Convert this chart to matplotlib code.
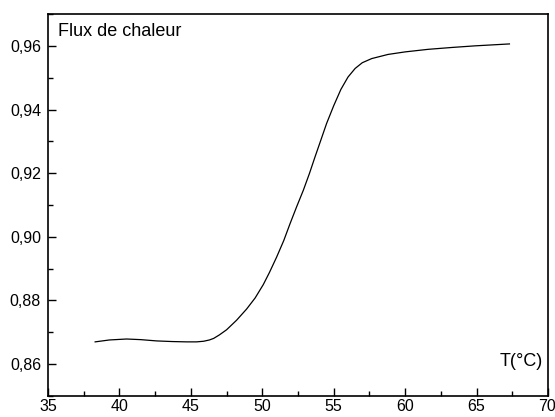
import matplotlib
matplotlib.use("Agg")
import matplotlib.pyplot as plt
from matplotlib.ticker import MultipleLocator, FuncFormatter

plt.rcParams['font.family'] = ['Liberation Sans', 'DejaVu Sans']

# Heat flow curve vs temperature
temperature = [38.3, 39.3, 40.5, 41.5, 42.6, 43.7, 44.7, 45.4, 45.9, 46.3,
               46.6, 47.0, 47.5, 48.2, 48.9, 49.5, 50.07, 50.5, 51.0, 51.5,
               51.94, 52.4, 52.87, 53.3, 53.69, 54.1, 54.5, 55.0, 55.5, 56.0,
               56.5, 57.0, 57.66, 58.8, 60.0, 61.6, 63.3, 64.9, 67.3]
heat_flux = [0.8670, 0.8676, 0.8679, 0.8677, 0.8673, 0.8671, 0.8670, 0.8670,
             0.8672, 0.8676, 0.8681, 0.8692, 0.8708, 0.8738, 0.8773, 0.8808,
             0.8850, 0.8888, 0.8936, 0.8988, 0.9041, 0.9094, 0.9146, 0.9199,
             0.9251, 0.9304, 0.9356, 0.9412, 0.9463, 0.9502, 0.9529, 0.9547,
             0.9560, 0.9573, 0.9581, 0.9589, 0.9595, 0.9600, 0.9606]

x_min, x_max = 35, 70

fig = plt.figure(figsize=(5.55, 4.17), dpi=100)
ax = fig.add_axes([0.0865, 0.0504, 0.9009, 0.916])

ax.plot(temperature, heat_flux, color='black', linewidth=0.9)

ax.set_xlim(x_min, x_max)
ax.set_ylim(0.85, 0.97)
ax.xaxis.set_major_locator(MultipleLocator(5))
ax.xaxis.set_minor_locator(MultipleLocator(2.5))
ax.yaxis.set_major_locator(MultipleLocator(0.02))
ax.yaxis.set_minor_locator(MultipleLocator(0.01))
ax.yaxis.set_major_formatter(FuncFormatter(lambda v, p: f"{v:.2f}".replace('.', ',')))
# the last x label is drawn separately so it stays inside the canvas
ax.xaxis.set_major_formatter(FuncFormatter(
    lambda v, p: "" if abs(v - x_max) < 1e-9 else f"{v:g}"))

ax.tick_params(which='major', direction='in', length=6, width=1.0, labelsize=11.5)
ax.tick_params(which='minor', direction='in', length=3.5, width=1.0)
ax.tick_params(axis='x', pad=2.5)
ax.tick_params(axis='y', pad=5)

ax.annotate(f"{x_max:g}", xy=(x_max, 0), xycoords=('data', 'axes fraction'),
            xytext=(6, -2.5), textcoords='offset points',
            ha='right', va='top', fontsize=11.5, annotation_clip=False)

for s in ax.spines.values():
    s.set_linewidth(1.2)

ax.text(0.02, 0.955, "Flux de chaleur", transform=ax.transAxes,
        fontsize=13, ha='left', va='center')
ax.text(0.99, 0.09, "T(°C)", transform=ax.transAxes,
        fontsize=13, ha='right', va='center')

fig.savefig("out.png", dpi=100)
